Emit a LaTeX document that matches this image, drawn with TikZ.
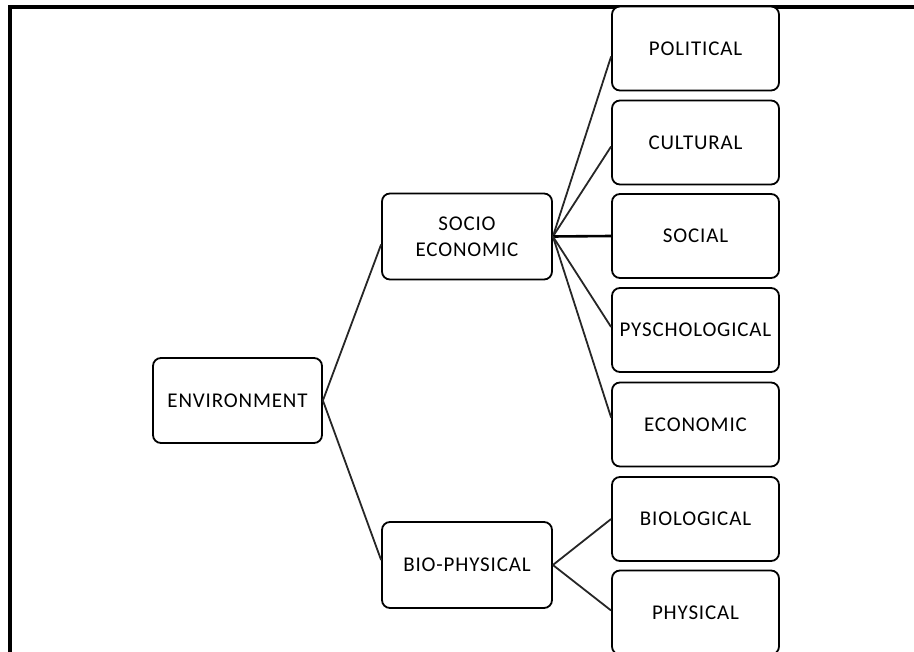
\documentclass[tikz,border=0pt]{standalone}
\usepackage{fontspec}
\setmainfont[LetterSpace=4]{Carlito}
\begin{document}
\begin{tikzpicture}[x=1pt,y=-1pt,
  box/.style={draw=black,line width=1.8pt,rounded corners=8pt,fill=white,align=center,
    inner sep=0pt,font=\fontsize{21}{26}\selectfont},
  midbox/.style={box,minimum width=170pt,minimum height=86pt},
  leafbox/.style={box,minimum width=167pt,minimum height=84pt},
  link/.style={draw=black!85,line width=1.8pt},
  frameline/.style={draw=black,line width=4pt}]
\useasboundingbox (0,0) rectangle (914,652);
\begin{scope}
\clip (0,0) rectangle (914,652);
\draw[frameline] (10,652) -- (10,7.5) -- (914,7.5);
\node[box,minimum width=169pt,minimum height=85pt] (env) at (237.5,400.5) {ENVIRONMENT};
\node[midbox] (soc) at (467,236.5) {SOCIO\\ECONOMIC};
\node[midbox] (bio) at (467,565) {BIO-PHYSICAL};
\node[leafbox] (pol) at (695.5,48.5) {POLITICAL};
\node[leafbox] (cul) at (695.5,142.5) {CULTURAL};
\node[leafbox] (sci) at (695.5,236) {SOCIAL};
\node[leafbox] (psy) at (695.5,330) {PYSCHOLOGICAL};
\node[leafbox] (eco) at (695.5,424.5) {ECONOMIC};
\node[leafbox] (biol) at (695.5,519) {BIOLOGICAL};
\node[leafbox] (phy) at (695.5,612.5) {PHYSICAL};
\draw[link] (env.east) -- ([yshift=-8pt]soc.west);
\draw[link] (env.east) -- ([yshift=5pt]bio.west);
\draw[link] (soc.east) -- ([yshift=-8pt]pol.west);
\draw[link] (soc.east) -- ([yshift=-4pt]cul.west);
\draw[link,draw=black,line width=2.6pt] (soc.east) -- (sci.west);
\draw[link] (soc.east) -- ([yshift=3pt]psy.west);
\draw[link] (soc.east) -- ([yshift=7pt]eco.west);
\draw[link] (bio.east) -- (biol.west);
\draw[link] (bio.east) -- ([yshift=2pt]phy.west);
\end{scope}
\end{tikzpicture}
\end{document}
